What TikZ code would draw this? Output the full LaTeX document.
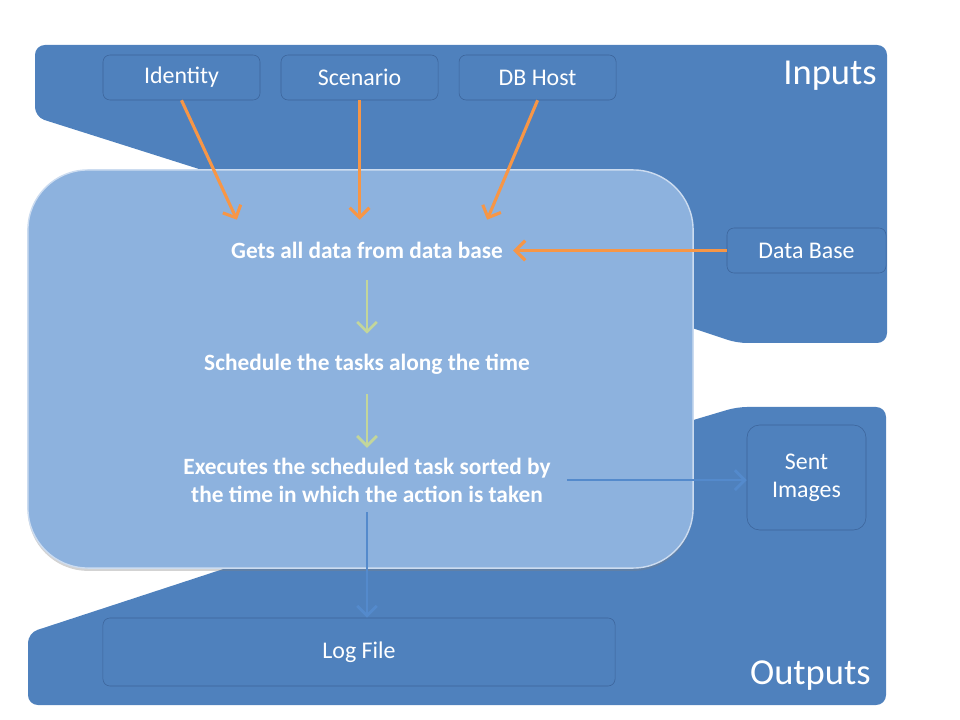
\documentclass[tikz,border=0pt]{standalone}
\usepackage{fontspec}
\setmainfont{Carlito}
\usetikzlibrary{positioning,arrows.meta,shadows}
\definecolor{panel}{RGB}{79,129,189}
\definecolor{panelline}{RGB}{60,100,154}
\definecolor{core}{RGB}{141,178,222}
\definecolor{feed}{RGB}{247,150,70}
\definecolor{flow}{RGB}{195,214,155}
\definecolor{sink}{RGB}{84,138,204}

\begin{document}
\begin{tikzpicture}[x=0.025cm,y=-0.025cm,
 box/.style={draw=panelline,fill=panel,rounded corners=5pt,text=white,
  font=\fontsize{17}{20}\selectfont,align=center,inner sep=0pt},
 act/.style={text=white,font=\bfseries\fontsize{16.6}{20}\selectfont,
  align=center,inner xsep=0pt,minimum height=1.5cm},
 title/.style={text=white,font=\fontsize{26}{30}\selectfont,inner sep=0pt},
 feedarrow/.style={feed,line width=2.2pt,-{Straight Barb[length=7pt,width=14pt]}},
 flowarrow/.style={flow,line width=2pt,-{Straight Barb[length=7pt,width=14pt]}},
 sinkarrow/.style={sink,line width=2pt,-{Straight Barb[length=7pt,width=14pt]}}]
 \useasboundingbox (0,0) rectangle (960,720);
 \fill[panel,rounded corners=7pt] (35,45) -- (887,45) -- (887,343) -- (737,343)
  -- (680,324) -- (240,182) -- (35,117) -- cycle;
 \fill[panel,rounded corners=7pt] (28,705) -- (886,705) -- (886,407) -- (737,407)
  -- (680,424) -- (600,540) -- (260,557) -- (28,633) -- cycle;
 \node[draw=white!55!core,line width=1pt,fill=core,rounded corners=1.5cm,
  minimum width=16.625cm,minimum height=9.95cm,
  drop shadow={shadow xshift=0pt,shadow yshift=-2pt,opacity=0.35}] (engine) at (360.5,369) {};
 \node[title,anchor=base east] (intitle) at (877,85) {Inputs};
 \node[title,anchor=base east] (outtitle) at (871,684) {Outputs};
 \node[box,minimum width=3.925cm,minimum height=1.125cm] (ident) at (181.5,77.5) {Identity};
 \node[box,minimum width=3.925cm,minimum height=1.125cm,on grid,right=4.45cm of ident] (scen) {Scenario};
 \node[box,minimum width=3.925cm,minimum height=1.125cm,on grid,right=4.45cm of scen] (host) {DB Host};
 \node[box,minimum width=3.975cm,minimum height=1.125cm] (db) at (806.5,250.5) {Data Base};
 \node[box,rounded corners=9pt,minimum width=2.975cm,minimum height=2.625cm] (sent) at (806.5,477.5) {Sent\\Images};
 \node[box,minimum width=12.8cm,minimum height=1.7cm] (log) at (359,652) {Log File};
 \node[act] (gets) at (367,250) {Gets all data from data base};
 \node[act,on grid,below=2.85cm of gets] (sched) {Schedule the tasks along the time};
 \node[act,on grid,below=2.9cm of sched,inner xsep=0.4cm,minimum height=1.6cm] (exec)
  {Executes the scheduled task sorted by\\the time in which the action is taken};
 \draw[feedarrow] (ident.south) -- ([xshift=0.15cm]gets.north west);
 \draw[feedarrow] (scen.south) -- (scen.south |- gets.north);
 \draw[feedarrow] (host.south) -- ([xshift=-0.4cm]gets.north east);
 \draw[feedarrow,shorten >=0.25cm] (db.west) -- (db.west -| gets.east);
 \draw[flowarrow] (gets) -- (sched);
 \draw[flowarrow] (sched) -- (exec);
 \draw[sinkarrow] (exec.east) -- (exec.east -| sent.west);
 \draw[sinkarrow] (exec.south) -- (exec.south |- log.north);
\end{tikzpicture}
\end{document}
